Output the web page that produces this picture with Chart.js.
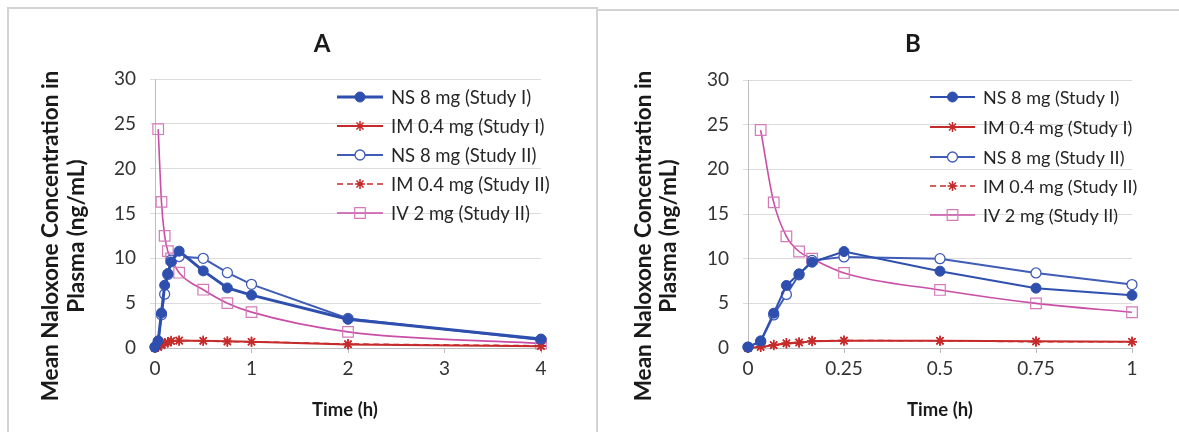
<!DOCTYPE html>
<html><head><meta charset="utf-8">
<script src="https://cdn.jsdelivr.net/npm/chart.js@4.4.1/dist/chart.umd.min.js"></script>
<style>
html,body{margin:0;padding:0;background:#fff;width:1179px;height:432px;overflow:hidden;}
#boxA{position:absolute;left:7px;top:7px;width:587px;height:440px;border:2px solid #d3d3d3;border-bottom:none;}
#boxB{position:absolute;left:598px;top:9px;width:600px;height:440px;border-top:2px solid #d3d3d3;}
#wa{position:absolute;left:0;top:0;width:598px;height:432px;}
#wb{position:absolute;left:598px;top:0;width:581px;height:432px;}
canvas{display:block;}
</style></head><body>
<div id="boxA"></div><div id="boxB"></div>
<div id="wa"><canvas id="ca" width="598" height="432"></canvas></div>
<div id="wb"><canvas id="cb" width="581" height="432"></canvas></div>
<script>
// ---- data (time in hours, concentration in ng/mL) ----
const timeH     = [0, 0.033, 0.067, 0.1, 0.133, 0.167, 0.25, 0.5, 0.75, 1, 2, 4];
const nsStudyI  = [0.1, 0.8, 3.9, 7.0, 8.3, 9.6, 10.8, 8.6, 6.7, 5.9, 3.2, 1.0];
const imStudyI  = [0.0, 0.1, 0.3, 0.5, 0.6, 0.75, 0.8, 0.8, 0.75, 0.7, 0.4, 0.2];
const nsStudyII = [0.1, 0.7, 3.7, 6.0, 8.2, 9.8, 10.2, 10.0, 8.4, 7.1, 3.3, 0.9];
const imStudyII = [0.0, 0.15, 0.35, 0.55, 0.65, 0.8, 0.85, 0.8, 0.7, 0.7, 0.45, 0.25];
const ivStudyII = [null, 24.4, 16.3, 12.5, 10.8, 10.0, 8.4, 6.5, 5.0, 4.0, 1.8, 0.5];
const seriesNames = ['NS 8 mg (Study I)', 'IM 0.4 mg (Study I)', 'NS 8 mg (Study II)', 'IM 0.4 mg (Study II)', 'IV 2 mg (Study II)'];
const panelTitles = ['A', 'B'];
const xTicksA = [0, 1, 2, 3, 4];
const xTicksB = [0, 0.25, 0.5, 0.75, 1];
const yTicks  = [0, 5, 10, 15, 20, 25, 30];
const yTitleLines = ['Mean Naloxone Concentration in', 'Plasma (ng/mL)'];
const xTitle = 'Time (h)';

const FONT = 'Lato, "Open Sans", sans-serif';
const BLUE1 = '#2f4fae', BLUE2 = '#3f5cb6', RED = '#c62b2b', PINK = '#c94ea6';

function pts(vals, maxT) {
  const out = [];
  timeH.forEach((t, i) => { if (t <= maxT && vals[i] !== null) out.push({x: t, y: vals[i]}); });
  return out;
}

function makeDatasets(maxT, nsWidth) {
  return [
    {label: seriesNames[0], data: pts(nsStudyI, maxT), borderColor: BLUE1, backgroundColor: BLUE1, borderWidth: nsWidth,
     pointStyle: 'circle', pointRadius: 5, pointBackgroundColor: BLUE1, pointBorderColor: BLUE1, pointBorderWidth: 1, tension: 0},
    {label: seriesNames[1], data: pts(imStudyI, maxT), borderColor: RED, backgroundColor: RED, borderWidth: 2,
     pointStyle: 'star', pointRadius: 5, pointBorderColor: RED, pointBorderWidth: 1.5, tension: 0},
    {label: seriesNames[2], data: pts(nsStudyII, maxT), borderColor: BLUE2, backgroundColor: '#fff', borderWidth: 2,
     pointStyle: 'circle', pointRadius: 5, pointBackgroundColor: '#fff', pointBorderColor: BLUE2, pointBorderWidth: 1.3, tension: 0},
    {label: seriesNames[3], data: pts(imStudyII, maxT), borderColor: RED, backgroundColor: RED, borderWidth: 1.5, borderDash: [6, 4],
     pointStyle: 'star', pointRadius: 5, pointBorderColor: RED, pointBorderWidth: 1.5, tension: 0},
    {label: seriesNames[4], data: pts(ivStudyII, maxT), borderColor: PINK, backgroundColor: '#fff', borderWidth: 1.6,
     pointStyle: 'rect', pointRadius: 7.5, pointBackgroundColor: 'rgba(255,255,255,0)', pointBorderColor: '#d47ab9', pointBorderWidth: 1.2,
     cubicInterpolationMode: 'monotone'}
  ];
}

const decor = {
  id: 'decor',
  afterDraw(chart, args, o) {
    const ctx = chart.ctx;
    ctx.save();
    ctx.fillStyle = '#1a1a1a';
    ctx.textAlign = 'center'; ctx.textBaseline = 'middle';
    ctx.font = 'bold 24px ' + FONT;
    ctx.fillText(o.title, o.titleX, o.titleY);
    ctx.font = 'bold 18.5px ' + FONT;
    ctx.fillText(xTitle, o.xTitleX, o.xTitleY);
    ctx.font = 'bold 22.5px ' + FONT;
    yTitleLines.forEach((line, i) => {
      ctx.save();
      ctx.translate(o.yTitleXs[i], o.yTitleY);
      ctx.rotate(-Math.PI / 2);
      ctx.fillText(line, 0, 0);
      ctx.restore();
    });
    // legend
    const ds = chart.data.datasets;
    ds.forEach((d, i) => {
      const y = o.legRows[i];
      ctx.save();
      ctx.strokeStyle = d.borderColor; ctx.lineWidth = d.borderWidth;
      ctx.setLineDash(d.borderDash || []);
      ctx.beginPath(); ctx.moveTo(o.legX1, y); ctx.lineTo(o.legX2, y); ctx.stroke();
      ctx.setLineDash([]);
      ctx.fillStyle = d.pointBackgroundColor || d.pointBorderColor;
      ctx.strokeStyle = d.pointBorderColor; ctx.lineWidth = d.pointBorderWidth;
      Chart.helpers.drawPoint(ctx, {pointStyle: d.pointStyle, radius: d.pointRadius, rotation: 0, borderWidth: d.pointBorderWidth}, (o.legX1 + o.legX2) / 2, y);
      ctx.restore();
      ctx.fillStyle = '#262626';
      ctx.textAlign = 'left'; ctx.textBaseline = 'middle';
      ctx.font = o.legFont + 'px ' + FONT;
      ctx.fillText(d.label, o.legTextX, y + 1);
    });
    ctx.restore();
  }
};

function makeChart(id, cfg) {
  return new Chart(document.getElementById(id), {
    type: 'line',
    data: {datasets: makeDatasets(cfg.xMax, cfg.nsWidth)},
    options: {
      responsive: false, animation: false, clip: false,
      layout: {padding: {left: 0, right: cfg.padRight, top: cfg.padTop, bottom: 0}},
      plugins: {legend: {display: false}, title: {display: false}, tooltip: {enabled: false}, decor: cfg.decor},
      scales: {
        x: {type: 'linear', min: 0, max: cfg.xMax,
            afterBuildTicks: s => { s.ticks = cfg.xTicks.map(v => ({value: v})); },
            afterFit: s => { s.height = 432 - cfg.bottom; },
            grid: {drawOnChartArea: false, drawTicks: true, tickLength: 5, color: '#bdbdbd'},
            border: {color: '#bdbdbd', width: 1},
            ticks: {font: {family: FONT, size: 19}, color: '#333', padding: 4, maxRotation: 0, autoSkip: false,
                    callback: v => String(v)}},
        y: {type: 'linear', min: 0, max: 30,
            afterBuildTicks: s => { s.ticks = yTicks.map(v => ({value: v})); },
            afterFit: s => { s.width = cfg.left; },
            grid: {color: '#dcdcdc', drawTicks: true, tickLength: 5},
            border: {color: '#bdbdbd', width: 1},
            ticks: {font: {family: FONT, size: 19}, color: '#333', padding: 14, autoSkip: false,
                    callback: v => String(v)}}
      }
    },
    plugins: [decor]
  });
}

makeChart('ca', {xMax: 4, xTicks: xTicksA, nsWidth: 3, left: 155, padRight: 598 - 541, padTop: 79, bottom: 348,
  decor: {title: panelTitles[0], titleX: 322, titleY: 44, xTitleX: 345, xTitleY: 410, yTitleXs: [51, 77], yTitleY: 236,
          legRows: [97, 126, 155, 184, 213], legX1: 337, legX2: 383, legTextX: 391, legFont: 18.5}});
makeChart('cb', {xMax: 1, xTicks: xTicksB, nsWidth: 2, left: 150, padRight: 581 - 534, padTop: 80, bottom: 348,
  decor: {title: panelTitles[1], titleX: 315, titleY: 44, xTitleX: 342, xTitleY: 410, yTitleXs: [46, 71], yTitleY: 236,
          legRows: [97, 127, 157, 186, 215], legX1: 332, legX2: 377, legTextX: 385, legFont: 18}});
</script>
</body></html>
